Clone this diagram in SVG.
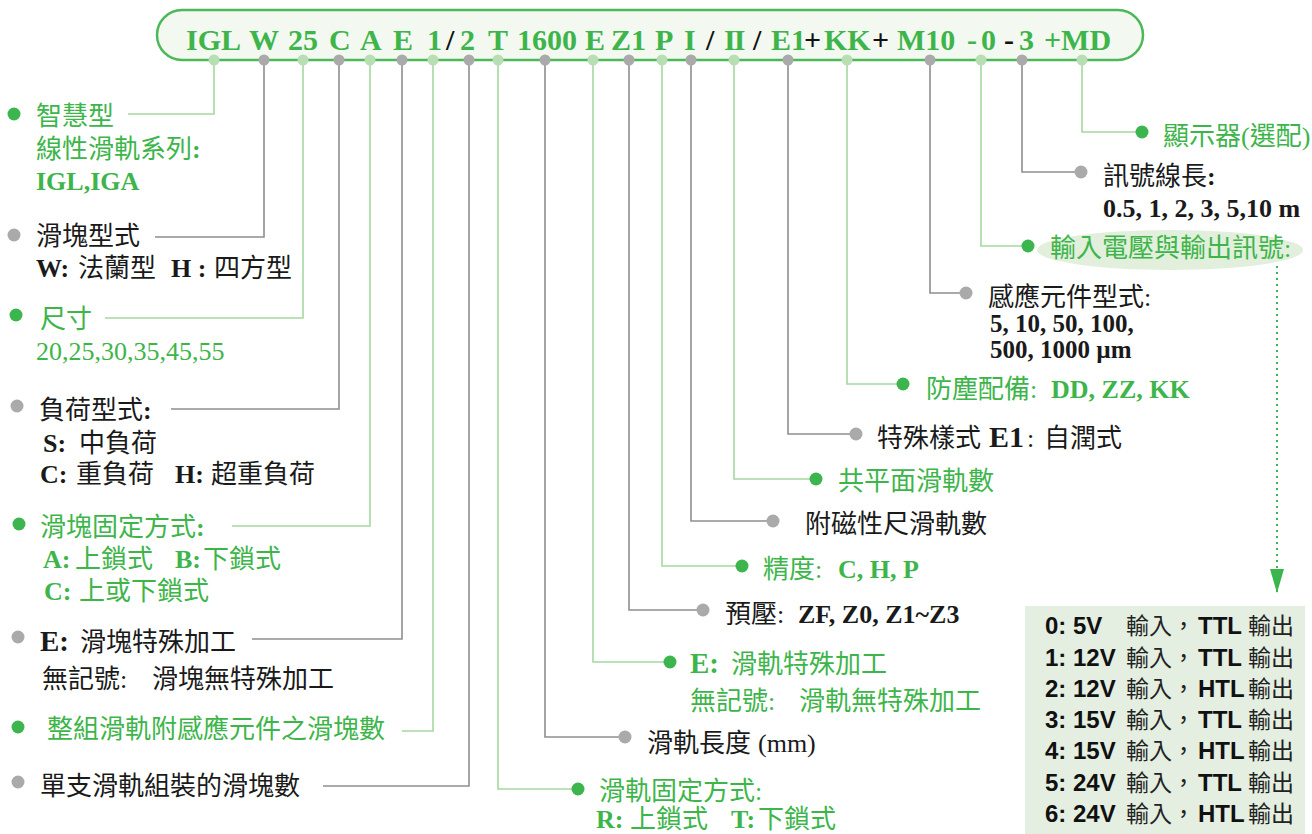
<svg xmlns="http://www.w3.org/2000/svg" width="1312" height="834" viewBox="0 0 1312 834">
<style>
text{font-family:"Liberation Serif","Noto Sans CJK TC",serif;font-size:26px}
.g{fill:#3db54a}
.k{fill:#1a1a1a}
.b{font-weight:bold}
.code{font-family:"Liberation Serif",serif;font-size:30px;font-weight:bold;fill:#3db54a}
.codek{font-family:"Liberation Serif",serif;font-size:30px;font-weight:bold;fill:#111}
.lat{font-size:26px}
.num{font-size:25px;font-weight:bold}
.tb{font-family:"Liberation Sans","Noto Sans CJK TC",sans-serif;font-size:24px;font-weight:bold;fill:#111}
.tc{font-family:"Liberation Sans","Noto Sans CJK TC",sans-serif;font-size:23px;fill:#222}
.lg{fill:none;stroke:#a6d8a2;stroke-width:1.6}
.gr{fill:none;stroke:#8e8e8e;stroke-width:1.6}
.dg{fill:#3db54f}
.dk{fill:#aaaaaa}
.dlg{fill:#b8dfb4}
</style>
<defs>
<marker id="ah" viewBox="0 0 24 14" refX="24" refY="7" markerWidth="24" markerHeight="14" markerUnits="userSpaceOnUse" orient="auto">
<path d="M0,0 L24,7 L0,14 Z" fill="#3db54f"/>
</marker>
</defs>
<rect width="1312" height="834" fill="#ffffff"/>

<g id="connectors">
<path class="lg" d="M214,60 V114 H128"/>
<path class="gr" d="M264,60 V237 H155"/>
<path class="lg" d="M303,60 V318 H105"/>
<path class="gr" d="M339,60 V409 H171"/>
<path class="lg" d="M370,60 V526 H232"/>
<path class="gr" d="M402,60 V639 H252"/>
<path class="lg" d="M433,60 V731 H402"/>
<path class="gr" d="M469,60 V786 H323"/>
<path class="lg" d="M498,60 V789 H578"/>
<path class="gr" d="M545,60 V737 H625"/>
<path class="lg" d="M593,60 V662 H670"/>
<path class="gr" d="M629,60 V610 H703"/>
<path class="lg" d="M662,60 V566 H742"/>
<path class="gr" d="M691,60 V521 H773"/>
<path class="lg" d="M734,60 V479 H816"/>
<path class="gr" d="M788,60 V434 H856"/>
<path class="lg" d="M847,60 V384 H903"/>
<path class="gr" d="M930,60 V293 H966"/>
<path class="lg" d="M981,60 V246 H1028"/>
<path class="gr" d="M1022,60 V172 H1081"/>
<path class="lg" d="M1082,60 V132 H1142"/>
<path d="M1277,266 V593" fill="none" stroke="#3db54f" stroke-width="2" stroke-dasharray="2 4" marker-end="url(#ah)"/>
</g>

<g id="code-bar">
<rect x="157" y="10" width="986" height="50" rx="25" fill="#f3f8f1" stroke="#4cb857" stroke-width="2.5"/>
<text class="code" x="186" y="50">IGL</text>
<text class="code" x="249" y="50">W</text>
<text class="code" x="288" y="50">25</text>
<text class="code" x="329" y="50">C</text>
<text class="code" x="360" y="50">A</text>
<text class="code" x="393" y="50">E</text>
<text class="code" x="427" y="50">1</text>
<text class="codek" x="446" y="50">/</text>
<text class="code" x="460" y="50">2</text>
<text class="code" x="488" y="50">T</text>
<text class="code" x="517" y="50">1600</text>
<text class="code" x="585" y="50">E</text>
<text class="code" x="611" y="50">Z1</text>
<text class="code" x="655" y="50">P</text>
<text class="code" x="684" y="50">I</text>
<text class="codek" x="706" y="50">/</text>
<text class="code" x="724" y="50" letter-spacing="-2">II</text>
<text class="codek" x="753" y="50">/</text>
<text class="code" x="771" y="50">E1</text>
<text class="codek" x="804" y="50">+</text>
<text class="code" x="824" y="50">KK</text>
<text class="codek" x="872" y="50">+</text>
<text class="code" x="897" y="50">M10</text>
<text class="code" x="967" y="50">-</text>
<text class="code" x="981" y="50">0</text>
<text class="codek" x="1004" y="50">-</text>
<text class="code" x="1019" y="50">3</text>
<text class="code" x="1044" y="50">+MD</text>
<circle class="dlg" cx="214" cy="60" r="5.5"/>
<circle class="dk" cx="264" cy="60" r="5.5"/>
<circle class="dlg" cx="303" cy="60" r="5.5"/>
<circle class="dk" cx="339" cy="60" r="5.5"/>
<circle class="dlg" cx="370" cy="60" r="5.5"/>
<circle class="dk" cx="402" cy="60" r="5.5"/>
<circle class="dlg" cx="433" cy="60" r="5.5"/>
<circle class="dk" cx="469" cy="60" r="5.5"/>
<circle class="dlg" cx="498" cy="60" r="5.5"/>
<circle class="dk" cx="545" cy="60" r="5.5"/>
<circle class="dlg" cx="593" cy="60" r="5.5"/>
<circle class="dk" cx="629" cy="60" r="5.5"/>
<circle class="dlg" cx="662" cy="60" r="5.5"/>
<circle class="dk" cx="691" cy="60" r="5.5"/>
<circle class="dlg" cx="734" cy="60" r="5.5"/>
<circle class="dk" cx="788" cy="60" r="5.5"/>
<circle class="dlg" cx="847" cy="60" r="5.5"/>
<circle class="dk" cx="930" cy="60" r="5.5"/>
<circle class="dlg" cx="981" cy="60" r="5.5"/>
<circle class="dk" cx="1022" cy="60" r="5.5"/>
<circle class="dlg" cx="1082" cy="60" r="5.5"/>
</g>

<g id="series">
<circle class="dg" cx="14" cy="114" r="6.5"/>
<text class="g" x="36" y="125">智慧型</text>
<text class="g" x="36" y="158">線性滑軌系列<tspan class="b">:</tspan></text>
<text class="g b lat" x="36" y="190">IGL,IGA</text>
</g>

<g id="block-type">
<circle class="dk" cx="14" cy="235" r="6.5"/>
<text class="k" x="36" y="245">滑塊型式</text>
<text class="k" y="277"><tspan class="b lat" x="36">W:</tspan><tspan x="78">法蘭型</tspan><tspan class="b lat" x="171">H :</tspan><tspan x="214">四方型</tspan></text>
</g>

<g id="size">
<circle class="dg" cx="16" cy="315" r="6.5"/>
<text class="g" x="40" y="328">尺寸</text>
<text class="g lat" x="36" y="360">20,25,30,35,45,55</text>
</g>

<g id="load-type">
<circle class="dk" cx="17" cy="406" r="6.5"/>
<text class="k" x="39" y="419">負荷型式<tspan class="b">:</tspan></text>
<text class="k" y="452"><tspan class="b lat" x="43">S:</tspan><tspan x="79">中負荷</tspan></text>
<text class="k" y="483"><tspan class="b lat" x="40">C:</tspan><tspan x="76">重負荷</tspan><tspan class="b lat" x="175">H:</tspan><tspan x="211">超重負荷</tspan></text>
</g>

<g id="block-fixing">
<circle class="dg" cx="19" cy="524" r="6.5"/>
<text class="g" x="40" y="536">滑塊固定方式<tspan class="b">:</tspan></text>
<text class="g" y="568"><tspan class="b lat" x="43">A:</tspan><tspan x="75">上鎖式</tspan><tspan class="b lat" x="175">B:</tspan><tspan x="203">下鎖式</tspan></text>
<text class="g" y="600"><tspan class="b lat" x="44">C:</tspan><tspan x="79">上或下鎖式</tspan></text>
</g>

<g id="block-special">
<circle class="dk" cx="18" cy="637" r="6.5"/>
<text class="k" y="651"><tspan class="b" x="40" font-size="29">E:</tspan><tspan x="80">滑塊特殊加工</tspan></text>
<text class="k" y="688"><tspan x="42">無記號:</tspan><tspan x="152">滑塊無特殊加工</tspan></text>
</g>

<g id="sensor-blocks">
<circle class="dg" cx="18" cy="727" r="6.5"/>
<text class="g" x="47" y="738">整組滑軌附感應元件之滑塊數</text>
</g>

<g id="blocks-per-rail">
<circle class="dk" cx="18" cy="782" r="6.5"/>
<text class="k" x="40" y="795">單支滑軌組裝的滑塊數</text>
</g>

<g id="rail-fixing">
<circle class="dg" cx="578" cy="789" r="6.5"/>
<text class="g" x="599" y="800">滑軌固定方式:</text>
<text class="g" y="828"><tspan class="b lat" x="596">R:</tspan><tspan x="630">上鎖式</tspan><tspan class="b lat" x="731">T:</tspan><tspan x="758">下鎖式</tspan></text>
</g>

<g id="rail-length">
<circle class="dk" cx="625" cy="737" r="6.5"/>
<text class="k" x="647" y="752">滑軌長度<tspan class="lat" x="758">(mm)</tspan></text>
</g>

<g id="rail-special">
<circle class="dg" cx="670" cy="662" r="6.5"/>
<text class="g" y="673"><tspan class="b" x="690" font-size="29">E:</tspan><tspan x="731">滑軌特殊加工</tspan></text>
<text class="g" y="710"><tspan x="690">無記號:</tspan><tspan x="799">滑軌無特殊加工</tspan></text>
</g>

<g id="preload">
<circle class="dk" cx="703" cy="610" r="6.5"/>
<text class="k" y="623"><tspan x="725">預壓:</tspan><tspan class="b lat" x="798">ZF, Z0, Z1~Z3</tspan></text>
</g>

<g id="accuracy">
<circle class="dg" cx="742" cy="566" r="6.5"/>
<text class="g" y="578"><tspan x="763">精度:</tspan><tspan class="b lat" x="838">C, H, P</tspan></text>
</g>

<g id="magnetic-rails">
<circle class="dk" cx="773" cy="521" r="6.5"/>
<text class="k" x="805" y="533">附磁性尺滑軌數</text>
</g>

<g id="coplanar-rails">
<circle class="dg" cx="816" cy="479" r="6.5"/>
<text class="g" x="838" y="490">共平面滑軌數</text>
</g>

<g id="special-style">
<circle class="dk" cx="856" cy="434" r="6.5"/>
<text class="k" y="447"><tspan x="877">特殊樣式</tspan><tspan class="b" x="989" font-size="30">E1</tspan><tspan x="1027">:</tspan><tspan x="1044">自潤式</tspan></text>
</g>

<g id="dust-protection">
<circle class="dg" cx="903" cy="384" r="6.5"/>
<text class="g" y="398"><tspan x="926">防塵配備:</tspan><tspan class="b lat" x="1051">DD, ZZ, KK</tspan></text>
</g>

<g id="sensor-type">
<circle class="dk" cx="966" cy="293" r="6.5"/>
<text class="k" x="988" y="306">感應元件型式:</text>
<text class="k num" x="990" y="332">5, 10, 50, 100,</text>
<text class="k num" x="990" y="358">500, 1000 µm</text>
</g>

<g id="io-signal">
<ellipse cx="1170" cy="250" rx="133" ry="20" fill="#e2efdc"/>
<circle class="dg" cx="1028" cy="246" r="6.5"/>
<text class="g" x="1050" y="257">輸入電壓與輸出訊號:</text>
</g>

<g id="cable-length">
<circle class="dk" cx="1081" cy="172" r="6.5"/>
<text class="k" x="1103" y="185">訊號線長<tspan class="b">:</tspan></text>
<text class="k b lat" x="1103" y="217">0.5, 1, 2, 3, 5,10 m</text>
</g>

<g id="display">
<circle class="dg" cx="1142" cy="132" r="6.5"/>
<text class="g" x="1163" y="145">顯示器(選配)</text>
</g>

<g id="signal-table">
<rect x="1025" y="606" width="280" height="228" fill="#e4eee1"/>
<text class="tb" x="1045" y="634">0: 5V</text>
<text class="tb" x="1045" y="666">1: 12V</text>
<text class="tb" x="1045" y="697">2: 12V</text>
<text class="tb" x="1045" y="728">3: 15V</text>
<text class="tb" x="1045" y="759">4: 15V</text>
<text class="tb" x="1045" y="791">5: 24V</text>
<text class="tb" x="1045" y="822">6: 24V</text>
<text class="tc" x="1126" y="634">輸入，</text>
<text class="tc" x="1126" y="666">輸入，</text>
<text class="tc" x="1126" y="697">輸入，</text>
<text class="tc" x="1126" y="728">輸入，</text>
<text class="tc" x="1126" y="759">輸入，</text>
<text class="tc" x="1126" y="791">輸入，</text>
<text class="tc" x="1126" y="822">輸入，</text>
<text class="tb" x="1198" y="634">TTL</text>
<text class="tb" x="1198" y="666">TTL</text>
<text class="tb" x="1198" y="697">HTL</text>
<text class="tb" x="1198" y="728">TTL</text>
<text class="tb" x="1198" y="759">HTL</text>
<text class="tb" x="1198" y="791">TTL</text>
<text class="tb" x="1198" y="822">HTL</text>
<text class="tc" x="1248" y="634">輸出</text>
<text class="tc" x="1248" y="666">輸出</text>
<text class="tc" x="1248" y="697">輸出</text>
<text class="tc" x="1248" y="728">輸出</text>
<text class="tc" x="1248" y="759">輸出</text>
<text class="tc" x="1248" y="791">輸出</text>
<text class="tc" x="1248" y="822">輸出</text>
</g>
</svg>
